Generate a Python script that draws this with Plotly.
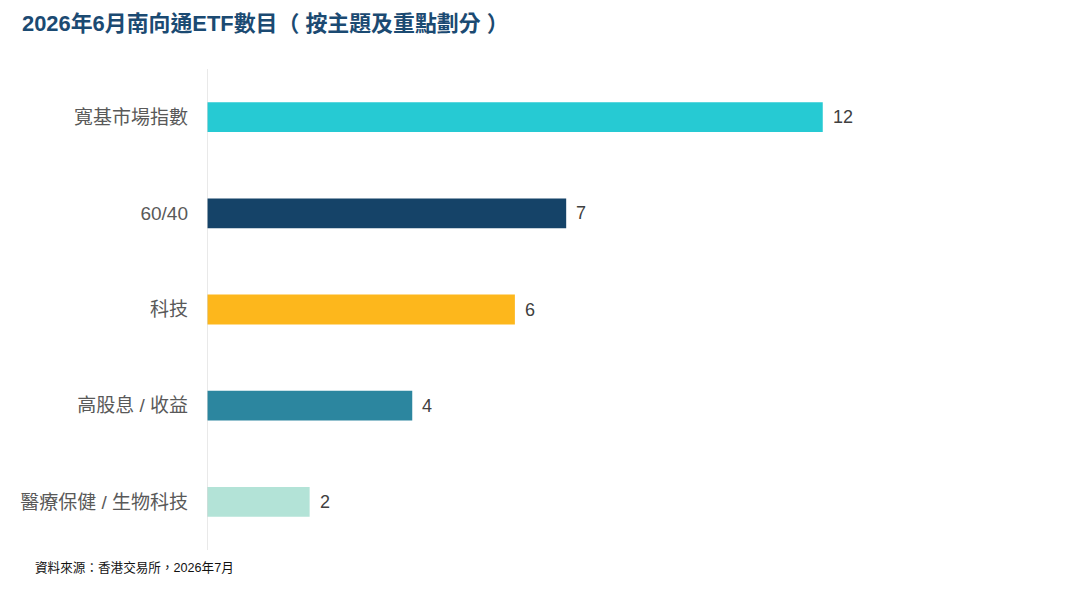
import plotly.graph_objects as go

categories = ["寬基市場指數", "60/40", "科技", "高股息 / 收益", "醫療保健 / 生物科技"]
values = [12, 7, 6, 4, 2]
colors = ["#26CAD3", "#154368", "#FDB71C", "#2C869F", "#B3E3D7"]
title_text = "2026年6月南向通ETF數目（ 按主題及重點劃分 ）"
source_text = "資料來源：香港交易所，2026年7月"

W, H = 1080, 597
L, T, B, R = 207, 69, 47, 52

fig = go.Figure()
fig.add_trace(go.Bar(
    y=categories, x=values, orientation="h",
    marker=dict(color=colors, line=dict(width=0)),
    width=0.31, hoverinfo="skip",
))

for c, v in zip(categories, values):
    fig.add_annotation(
        x=v, y=c, xref="x", yref="y", text=str(v), showarrow=False,
        xanchor="left", yanchor="middle", xshift=8,
        font=dict(family="Liberation Sans, Arial, sans-serif", size=18, color="#404040"),
    )

fig.add_annotation(
    x=(33 - L) / (W - L - R), y=-(567 - (H - B)) / (H - T - B),
    xref="paper", yref="paper", text=source_text, showarrow=False,
    xanchor="left", yanchor="middle",
    font=dict(family="Liberation Sans, Noto Sans CJK TC, sans-serif", size=12.6, color="#111111"),
)

fig.update_layout(
    width=W, height=H,
    margin=dict(l=L, r=R, t=T, b=B),
    paper_bgcolor="white", plot_bgcolor="white",
    showlegend=False,
    title=dict(
        text="<b>" + title_text + "</b>",
        x=22 / W, xref="container", xanchor="left",
        y=1 - 23 / H, yref="container", yanchor="middle",
        font=dict(family="Liberation Sans, Noto Sans CJK TC, sans-serif", size=21.9, color="#1B4A72"),
    ),
    xaxis=dict(range=[0, 16], visible=False, fixedrange=True),
    yaxis=dict(
        autorange="reversed", showgrid=False, zeroline=False, fixedrange=True,
        showline=False, ticks="", ticklabelstandoff=18,
        tickfont=dict(family="Liberation Sans, Noto Sans CJK TC, sans-serif", size=19, color="#595959"),
    ),
    shapes=[dict(type="line", xref="x", yref="paper", x0=0, x1=0, y0=0, y1=1,
                 line=dict(color="#DADADA", width=1.2))],
)

fig.write_html("out.html", config={"displayModeBar": False},
               post_script="document.body.style.margin='0';")
